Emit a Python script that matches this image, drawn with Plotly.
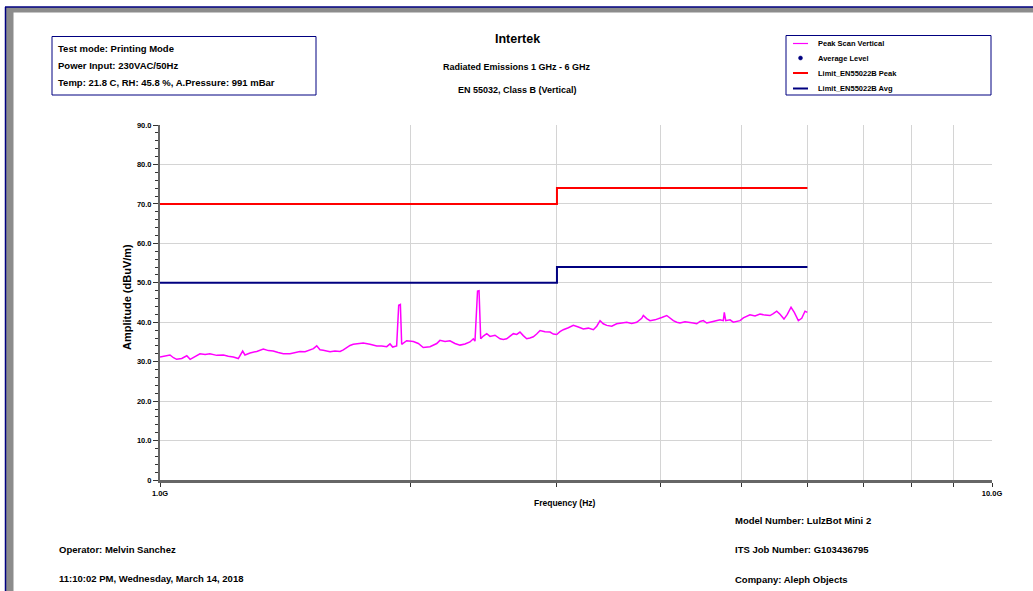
import plotly.graph_objects as go

# Peak scan, vertical polarisation (frequency in GHz, amplitude in dBuV/m)
scan_freq_ghz = [
    1.000, 1.014, 1.028, 1.038, 1.047, 1.062, 1.077, 1.087, 1.102, 1.117,
    1.133, 1.148, 1.170, 1.192, 1.208, 1.225, 1.242, 1.257, 1.265, 1.283,
    1.307, 1.331, 1.350, 1.368, 1.387, 1.407, 1.433, 1.453, 1.473, 1.494,
    1.515, 1.529, 1.543, 1.557, 1.571, 1.586, 1.601, 1.623, 1.646, 1.661,
    1.677, 1.692, 1.707, 1.731, 1.755, 1.788, 1.822, 1.847, 1.873, 1.890,
    1.904, 1.925, 1.936, 1.945, 1.952, 1.979, 2.016, 2.044, 2.072, 2.111,
    2.151, 2.170, 2.201, 2.231, 2.262, 2.294, 2.326, 2.358, 2.380, 2.391,
    2.408, 2.418, 2.429, 2.447, 2.470, 2.493, 2.527, 2.563, 2.586, 2.610,
    2.634, 2.659, 2.684, 2.708, 2.733, 2.759, 2.784, 2.810, 2.836, 2.863,
    2.902, 2.943, 2.970, 2.998, 3.025, 3.053, 3.096, 3.139, 3.183, 3.227,
    3.272, 3.318, 3.349, 3.380, 3.410, 3.443, 3.491, 3.539, 3.589, 3.639,
    3.689, 3.741, 3.793, 3.810, 3.846, 3.881, 3.935, 3.954, 4.009, 4.065,
    4.102, 4.140, 4.179, 4.217, 4.276, 4.336, 4.375, 4.417, 4.457, 4.498,
    4.541, 4.582, 4.646, 4.711, 4.754, 4.767, 4.786, 4.843, 4.887, 4.934,
    4.979, 5.025, 5.072, 5.118, 5.190, 5.262, 5.335, 5.410, 5.459, 5.511,
    5.562, 5.623, 5.675, 5.734, 5.786, 5.851, 5.906, 5.960, 5.998,
]
scan_level_dbuv = [
    31.2, 31.5, 31.7, 31.0, 30.6, 30.8, 31.5, 30.6, 31.3, 32.0,
    31.8, 32.0, 31.6, 31.7, 31.4, 31.2, 30.8, 32.7, 31.7, 32.2,
    32.6, 33.2, 32.8, 32.7, 32.3, 32.0, 32.0, 32.4, 32.6, 32.5,
    32.9, 33.3, 34.0, 33.0, 32.9, 32.6, 32.5, 32.7, 32.6, 33.0,
    33.6, 34.1, 34.4, 34.5, 34.7, 34.4, 34.0, 34.0, 33.8, 34.5,
    33.7, 34.0, 44.3, 44.5, 34.4, 35.3, 35.1, 34.6, 33.6, 33.8,
    34.6, 35.4, 35.1, 35.3, 34.6, 34.2, 34.5, 35.0, 35.8, 35.2,
    47.9, 48.0, 35.8, 36.5, 37.1, 36.4, 36.7, 35.8, 35.6, 35.8,
    36.5, 37.1, 36.9, 37.5, 36.6, 35.8, 36.0, 36.3, 37.0, 37.9,
    37.6, 37.5, 37.0, 36.9, 37.6, 38.1, 38.6, 39.2, 38.8, 38.3,
    38.5, 38.1, 39.0, 40.4, 39.6, 39.2, 39.0, 39.6, 39.8, 40.0,
    39.7, 40.0, 41.0, 41.7, 40.9, 40.4, 40.6, 40.8, 41.2, 41.7,
    41.0, 40.4, 40.0, 39.8, 40.1, 40.0, 39.8, 39.6, 40.2, 40.4,
    39.8, 40.0, 40.3, 40.6, 40.4, 42.5, 40.4, 40.6, 40.0, 40.3,
    40.4, 41.1, 41.5, 41.9, 41.6, 42.1, 41.8, 41.7, 42.2, 42.8,
    42.0, 40.8, 42.0, 43.8, 42.5, 40.4, 41.0, 42.8, 42.5,
]

# EN 55022 Class B limits (step at 3 GHz)
limit_freq_ghz = [1.0, 3.0, 6.0]
limit_peak_dbuv = [70.0, 74.0, 74.0]
limit_avg_dbuv = [50.0, 54.0, 54.0]

y_tick_vals = [0, 10, 20, 30, 40, 50, 60, 70, 80, 90]
y_tick_text = ["0", "10.0", "20.0", "30.0", "40.0", "50.0", "60.0", "70.0", "80.0", "90.0"]
x_tick_vals = [1, 10]
x_tick_text = ["1.0G", "10.0G"]
x_grid_vals = [2, 3, 4, 5, 6, 7, 8, 9]

legend_names = ["Peak Scan Vertical", "Average Level", "Limit_EN55022B Peak", "Limit_EN55022B Avg"]
info_lines = ["Test mode: Printing Mode", "Power Input: 230VAC/50Hz",
              "Temp: 21.8 C, RH: 45.8 %, A.Pressure: 991 mBar"]

W, H = 1033, 591
L, R, T, B = 160, 992, 125, 480
FONT = "Liberation Sans"
NAVY = "#000080"
MAGENTA = "#ff00ff"
RED = "#ff0000"


def px(x):
    return (x - L) / (R - L)


def py(y):
    return (B - y) / (B - T)


fig = go.Figure()
fig.add_trace(go.Scatter(x=limit_freq_ghz, y=limit_peak_dbuv, mode="lines", line_shape="hv",
                         line=dict(color=RED, width=2), name=legend_names[2]))
fig.add_trace(go.Scatter(x=limit_freq_ghz, y=limit_avg_dbuv, mode="lines", line_shape="hv",
                         line=dict(color=NAVY, width=2), name=legend_names[3]))
fig.add_trace(go.Scatter(x=scan_freq_ghz, y=scan_level_dbuv, mode="lines",
                         line=dict(color=MAGENTA, width=1.5), name=legend_names[0]))

shapes = []
annotations = []

# window frame: navy edge with grey bevel
shapes.append(dict(type="rect", xref="paper", yref="paper", x0=px(5), x1=px(W + 5), y0=py(7), y1=py(12.5),
                   fillcolor="#8c8c8c", line=dict(width=0), layer="above"))
shapes.append(dict(type="rect", xref="paper", yref="paper", x0=px(6), x1=px(13.5), y0=py(7), y1=py(H + 5),
                   fillcolor="#8c8c8c", line=dict(width=0), layer="above"))
shapes.append(dict(type="line", xref="paper", yref="paper", x0=px(5), x1=px(W + 5), y0=py(7), y1=py(7),
                   line=dict(color=NAVY, width=1.5)))
shapes.append(dict(type="line", xref="paper", yref="paper", x0=px(5.5), x1=px(5.5), y0=py(7), y1=py(H + 5),
                   line=dict(color=NAVY, width=1.5)))

# info box
shapes.append(dict(type="rect", xref="paper", yref="paper", x0=px(52), x1=px(316), y0=py(36.5), y1=py(95),
                   line=dict(color=NAVY, width=1)))
for i, txt in enumerate(info_lines):
    annotations.append(dict(xref="paper", yref="paper", x=px(56), y=py(48 + i * 17.5), text=txt,
                            showarrow=False, xanchor="left", yanchor="middle",
                            font=dict(family=FONT, size=9.5, color="black", weight="bold")))

# legend box
shapes.append(dict(type="rect", xref="paper", yref="paper", x0=px(786), x1=px(991), y0=py(35.5), y1=py(95),
                   line=dict(color=NAVY, width=1)))
legend_y = [43.5, 58, 73, 88.5]
legend_cols = [MAGENTA, NAVY, RED, NAVY]
for i, (name, col) in enumerate(zip(legend_names, legend_cols)):
    yy = legend_y[i]
    if i == 1:
        shapes.append(dict(type="circle", xref="paper", yref="paper", x0=px(798.5), x1=px(802.5),
                           y0=py(yy - 2), y1=py(yy + 2), fillcolor=NAVY, line=dict(color=NAVY, width=0.5)))
    else:
        shapes.append(dict(type="line", xref="paper", yref="paper", x0=px(793), x1=px(808), y0=py(yy), y1=py(yy),
                           line=dict(color=col, width=1.2 if i == 0 else 2)))
    annotations.append(dict(xref="paper", yref="paper", x=px(816), y=py(yy), text=name, showarrow=False,
                            xanchor="left", yanchor="middle",
                            font=dict(family=FONT, size=7.5, color="black", weight="bold")))

# titles
titles = [("Intertek", 39, 12.5), ("Radiated Emissions 1 GHz - 6 GHz", 67, 9), ("EN 55032, Class B (Vertical)", 90, 9)]
for txt, yy, size in titles:
    annotations.append(dict(xref="paper", yref="paper", x=px(517), y=py(yy), text=txt, showarrow=False,
                            xanchor="center", yanchor="middle",
                            font=dict(family=FONT, size=size, color="black", weight="bold")))

# axis titles
annotations.append(dict(xref="paper", yref="paper", x=px(565), y=py(503), text="Frequency (Hz)", showarrow=False,
                        xanchor="center", yanchor="middle", font=dict(family=FONT, size=8.5, color="black", weight="bold")))
annotations.append(dict(xref="paper", yref="paper", x=px(127), y=py(297), text="Amplitude (dBuV/m)", showarrow=False,
                        textangle=-90, xanchor="center", yanchor="middle",
                        font=dict(family=FONT, size=11, color="black", weight="bold")))

# footer
footer = [("Model Number: LulzBot Mini 2", 733, 520), ("Operator: Melvin Sanchez", 57, 549),
          ("ITS Job Number: G103436795", 733, 549), ("11:10:02 PM, Wednesday, March 14, 2018", 57, 578),
          ("Company: Aleph Objects", 733, 579)]
for txt, xx, yy in footer:
    annotations.append(dict(xref="paper", yref="paper", x=px(xx), y=py(yy), text=txt, showarrow=False,
                            xanchor="left", yanchor="middle",
                            font=dict(family=FONT, size=9.5, color="black", weight="bold")))

fig.update_layout(
    width=W, height=H,
    margin=dict(l=L, r=W - R, t=T, b=H - B, pad=0),
    paper_bgcolor="white", plot_bgcolor="white",
    showlegend=False,
    shapes=shapes, annotations=annotations,
    xaxis=dict(type="log", range=[0, 1], tickmode="array", tickvals=x_tick_vals, ticktext=x_tick_text,
               showgrid=False, zeroline=False, showline=True, linecolor="#666666", linewidth=2.5,
               ticks="outside", ticklen=4, tickwidth=1, tickcolor="#333333",
               tickfont=dict(family=FONT, size=7.5, color="black", weight="bold"),
               minor=dict(tickmode="array", tickvals=x_grid_vals, ticks="outside", ticklen=4,
                          tickcolor="#333333", showgrid=True, gridcolor="#d4d4d4", gridwidth=1)),
    yaxis=dict(range=[0, 90], tickmode="array", tickvals=y_tick_vals, ticktext=y_tick_text,
               showgrid=True, gridcolor="#d4d4d4", gridwidth=1.2, zeroline=False,
               showline=True, linecolor="#666666", linewidth=2,
               ticks="outside", ticklen=5, tickwidth=1, tickcolor="#333333",
               tickfont=dict(family=FONT, size=7.5, color="black", weight="bold"),
               minor=dict(dtick=2, ticks="outside", ticklen=3, tickcolor="#333333", showgrid=False)),
)

fig.write_html("out.html")
